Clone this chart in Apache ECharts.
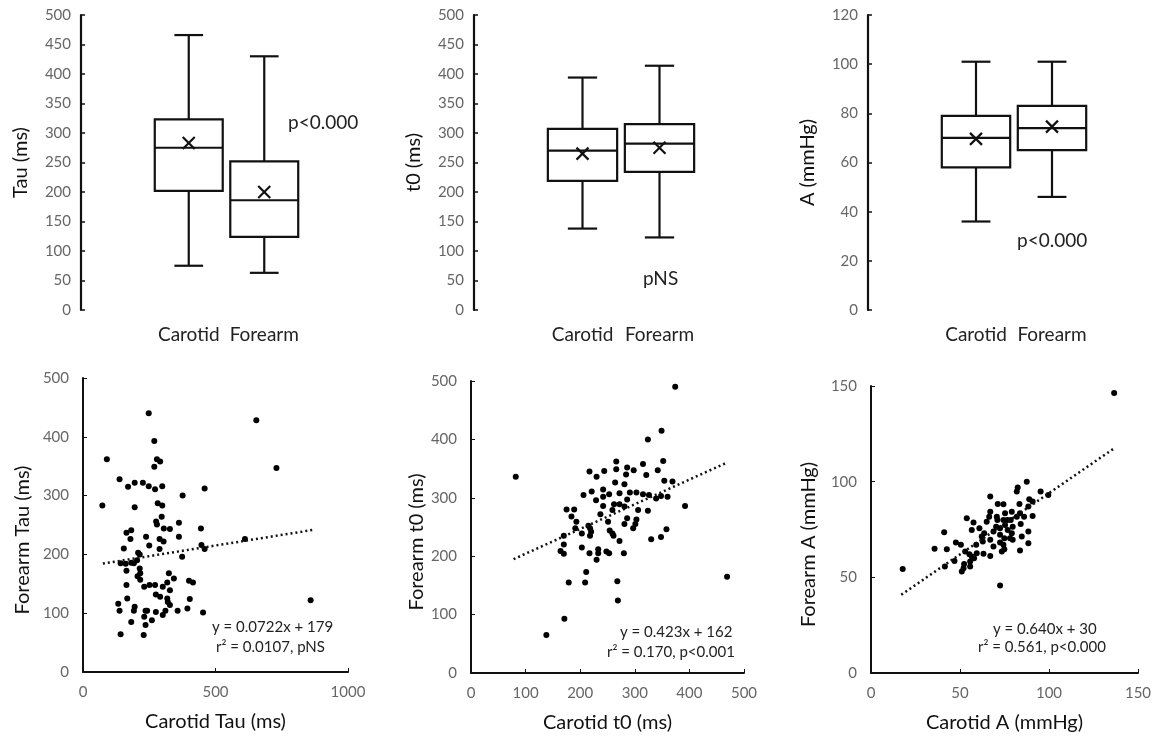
<!DOCTYPE html>
<html>
<head>
<meta charset="utf-8">
<title>Carotid vs Forearm</title>
<script src="https://cdn.jsdelivr.net/npm/echarts/dist/echarts.min.js"></script>
<style>
  html, body { margin: 0; padding: 0; background: #fff; }
  #chart { width: 1157px; height: 738px; }
</style>
</head>
<body>
<div id="chart"></div>
<script>
// box plot data: [min, q1, median, q3, max]
const boxCategories = ['Carotid', 'Forearm']
const tauBox = [[75, 202, 275, 323, 466], [63, 124, 186, 252, 430]]
const tauMean = [283, 200]
const t0Box = [[138, 219, 270, 307, 394], [123, 234, 282, 315, 414]]
const t0Mean = [265, 275]
const ampBox = [[36, 58, 70, 79, 101], [46, 65, 74, 83, 101]]
const ampMean = [69.6, 74.6]

// scatter data: [carotid, forearm]
const tauPoints = [
  [73, 283], [90, 362], [138, 328], [170, 315], [195, 322], [226, 322], [248, 316], [248, 440],
  [269, 393], [279, 362], [291, 358], [269, 349], [272, 311], [299, 316], [195, 280], [376, 300],
  [459, 312], [654, 428], [730, 347], [859, 122], [611, 226], [282, 287], [299, 283], [276, 256],
  [297, 264], [279, 251], [305, 244], [328, 243], [362, 254], [362, 230], [445, 244], [164, 237],
  [182, 241], [179, 226], [238, 230], [289, 226], [304, 222], [289, 209], [250, 215], [154, 210],
  [208, 203], [214, 200], [142, 185], [161, 184], [182, 186], [192, 185], [204, 190], [164, 172],
  [214, 176], [216, 168], [206, 163], [216, 157], [164, 148], [231, 145], [272, 148], [275, 132],
  [301, 145], [318, 152], [324, 168], [343, 159], [328, 139], [318, 125], [320, 119], [328, 114],
  [291, 128], [400, 155], [415, 152], [403, 124], [133, 116], [138, 104], [167, 125], [195, 111],
  [192, 104], [182, 85], [142, 64], [229, 63], [236, 104], [242, 104], [231, 94], [236, 80],
  [260, 88], [275, 102], [301, 97], [311, 104], [357, 104], [394, 108], [453, 101], [447, 216],
  [459, 209], [374, 196], [251, 148]
]
const t0Points = [
  [82, 336], [138, 65], [171, 93], [179, 155], [209, 155], [211, 173], [269, 124], [268, 157],
  [374, 490], [349, 415], [324, 400], [392, 286], [469, 165], [358, 246], [348, 233], [330, 229],
  [352, 363], [354, 329], [369, 328], [342, 347], [315, 358], [321, 339], [266, 362], [266, 349],
  [217, 345], [244, 346], [230, 336], [286, 352], [298, 347], [284, 340], [264, 326], [281, 323],
  [242, 314], [221, 311], [206, 305], [229, 296], [253, 306], [272, 308], [291, 309], [303, 309],
  [315, 306], [326, 305], [339, 299], [348, 303], [360, 302], [242, 286], [262, 289], [272, 289],
  [281, 285], [286, 297], [259, 279], [324, 278], [306, 279], [303, 263], [286, 265], [281, 255],
  [301, 255], [237, 272], [251, 259], [175, 280], [189, 280], [184, 268], [193, 259], [191, 248],
  [203, 239], [215, 252], [218, 248], [220, 242], [218, 235], [170, 235], [170, 220], [164, 209],
  [170, 204], [203, 215], [217, 205], [233, 212], [233, 205], [230, 194], [248, 208], [253, 205],
  [254, 244], [259, 239], [261, 235], [272, 226], [280, 205], [242, 302], [297, 248]
]
const ampPoints = [
  [17.8, 54.3], [136.6, 146.4], [72.5, 45.7], [41.1, 73.6], [35.7, 65.0], [42.6, 64.7], [41.5, 55.7],
  [46.9, 58.6], [47.7, 68.2], [53.8, 80.9], [56.6, 74.8], [57.6, 78.6], [50.5, 67.0], [52.9, 63.5],
  [55.3, 62.1], [51.0, 53.0], [52.0, 54.8], [55.7, 55.7], [55.7, 58.3], [56.6, 60.9], [59.4, 62.6],
  [63.2, 62.3], [67.0, 61.2], [62.8, 68.7], [63.6, 73.0], [65.0, 79.1], [67.0, 92.2], [70.7, 81.7],
  [71.2, 88.3], [74.4, 88.2], [67.0, 69.6], [68.8, 73.9], [70.3, 76.5], [72.5, 72.2], [72.5, 68.2],
  [74.4, 67.0], [73.5, 63.5], [74.9, 64.7], [75.3, 77.4], [76.6, 80.0], [76.8, 74.8], [78.1, 70.4],
  [79.1, 84.3], [78.5, 80.0], [81.9, 81.7], [81.9, 94.8], [82.4, 97.0], [83.7, 83.5], [84.1, 77.9],
  [83.4, 88.3], [87.5, 100.0], [88.9, 90.8], [88.4, 87.0], [90.8, 89.6], [90.8, 82.1], [88.4, 73.9],
  [88.4, 67.8], [83.7, 64.0], [95.3, 94.8], [99.6, 93.0], [86.0, 81.7], [84.7, 71.3], [75.3, 83.5],
  [66.4, 81.7], [67.0, 84.3], [60.9, 75.7], [62.2, 71.3], [59.1, 67.0], [72.5, 75.7], [74.9, 70.4],
  [79.6, 76.5], [71.0, 80.0], [74.4, 80.0], [79.6, 69.6], [57.9, 60.0], [52.3, 57.0], [68.8, 66.1],
  [79.1, 73.0]
]

// regression lines: [slope, intercept], drawn over [xStart, xEnd]
const tauFit = [0.0722, 179]
const tauFitRange = [75, 872]
const t0Fit = [0.423, 162]
const t0FitRange = [78, 467]
const ampFit = [0.640, 30]
const ampFitRange = [17, 137]

const FONT = 'Lato, "Open Sans", sans-serif'

const chart = echarts.init(document.getElementById('chart'))

// box + whiskers + mean cross, drawn with the axis scales
function renderBox (params, api) {
  const cat = api.value(0)
  const pMin = api.coord([cat, api.value(1)])
  const pQ1 = api.coord([cat, api.value(2)])
  const pMed = api.coord([cat, api.value(3)])
  const pQ3 = api.coord([cat, api.value(4)])
  const pMax = api.coord([cat, api.value(5)])
  const pMean = api.coord([cat, api.value(6)])
  const band = api.size([1, 0])[0]
  const half = band * 0.45
  const cap = band * 0.19
  const cx = pMed[0]
  const stroke = { stroke: '#111', lineWidth: 2.2, fill: null }
  const m = 6
  return {
    type: 'group',
    children: [
      { type: 'line', shape: { x1: cx, y1: pMax[1], x2: cx, y2: pQ3[1] }, style: stroke },
      { type: 'line', shape: { x1: cx, y1: pQ1[1], x2: cx, y2: pMin[1] }, style: stroke },
      { type: 'line', shape: { x1: cx - cap, y1: pMax[1], x2: cx + cap, y2: pMax[1] }, style: stroke },
      { type: 'line', shape: { x1: cx - cap, y1: pMin[1], x2: cx + cap, y2: pMin[1] }, style: stroke },
      {
        type: 'rect',
        shape: { x: cx - half, y: pQ3[1], width: half * 2, height: pQ1[1] - pQ3[1] },
        style: { stroke: '#111', lineWidth: 2.2, fill: '#fff' }
      },
      { type: 'line', shape: { x1: cx - half, y1: pMed[1], x2: cx + half, y2: pMed[1] }, style: stroke },
      { type: 'line', shape: { x1: cx - m, y1: pMean[1] - m, x2: cx + m, y2: pMean[1] + m }, style: stroke },
      { type: 'line', shape: { x1: cx - m, y1: pMean[1] + m, x2: cx + m, y2: pMean[1] - m }, style: stroke }
    ]
  }
}

function boxData (box, mean) {
  return box.map((b, i) => [i].concat(b, [mean[i]]))
}

function fitLine (fit, range) {
  return range.map(x => [x, fit[0] * x + fit[1]])
}

const tickLabel = { color: '#666', fontSize: 15, fontFamily: FONT, formatter: v => String(v) }
const axisName = { color: '#111', fontSize: 20, fontFamily: FONT }

function boxYAxis (idx, name, max, interval) {
  return {
    type: 'value', gridIndex: idx, min: 0, max: max, interval: interval,
    offset: 70,
    name: name, nameLocation: 'middle', nameGap: 50, nameTextStyle: axisName,
    axisLine: { show: true, lineStyle: { color: '#111', width: 2.2 } },
    axisTick: { show: true, inside: true, length: 4, lineStyle: { color: '#111', width: 1.5 } },
    axisLabel: Object.assign({ margin: 10 }, tickLabel),
    splitLine: { show: false }
  }
}

function boxXAxis (idx) {
  return {
    type: 'category', gridIndex: idx, data: boxCategories,
    axisLine: { show: false }, axisTick: { show: false },
    axisLabel: { color: '#222', fontSize: 19, fontFamily: FONT, margin: 15, interval: 0 }
  }
}

function scatterXAxis (idx, name, max, interval) {
  return {
    type: 'value', gridIndex: idx, min: 0, max: max, interval: interval,
    name: name, nameLocation: 'middle', nameGap: 40, nameTextStyle: axisName,
    axisLine: { show: true, lineStyle: { color: '#111', width: 2 } },
    axisTick: { show: true, inside: true, length: 4, lineStyle: { color: '#111' } },
    axisLabel: Object.assign({ margin: 13 }, tickLabel),
    splitLine: { show: false }
  }
}

function scatterYAxis (idx, name, max, interval, gap) {
  return {
    type: 'value', gridIndex: idx, min: 0, max: max, interval: interval,
    name: name, nameLocation: 'middle', nameGap: gap,
    nameTextStyle: Object.assign({ padding: [0, 30, 0, 0] }, axisName),
    axisLine: { show: true, lineStyle: { color: '#111', width: 2 } },
    axisTick: { show: true, inside: true, length: 4, lineStyle: { color: '#111' } },
    axisLabel: Object.assign({ margin: 14 }, tickLabel),
    splitLine: { show: false }
  }
}

function scatterSeries (idx, points) {
  return {
    type: 'scatter', xAxisIndex: idx, yAxisIndex: idx, data: points,
    symbolSize: 6, itemStyle: { color: '#000', opacity: 1 }, silent: true
  }
}

function fitSeries (idx, fit, range) {
  return {
    type: 'line', xAxisIndex: idx, yAxisIndex: idx, data: fitLine(fit, range),
    showSymbol: false, silent: true,
    lineStyle: { color: '#111', width: 2.5, type: [2, 3] }
  }
}

function note (x, y, text, size) {
  return {
    type: 'text', left: x, top: y,
    style: { text: text, fill: '#222', fontSize: size, fontFamily: FONT }
  }
}

const option = {
  backgroundColor: '#fff',
  animation: false,
  grid: [
    { left: 151, top: 15, width: 151, height: 295 },
    { left: 544, top: 15, width: 154, height: 295 },
    { left: 938, top: 15, width: 152, height: 295 },
    { left: 83, top: 378, width: 265, height: 294 },
    { left: 471, top: 381, width: 273, height: 292 },
    { left: 871, top: 386, width: 267, height: 287 }
  ],
  xAxis: [
    boxXAxis(0), boxXAxis(1), boxXAxis(2),
    scatterXAxis(3, 'Carotid Tau (ms)', 1000, 500),
    scatterXAxis(4, 'Carotid t0 (ms)', 500, 100),
    scatterXAxis(5, 'Carotid A (mmHg)', 150, 50)
  ],
  yAxis: [
    boxYAxis(0, 'Tau (ms)', 500, 50),
    boxYAxis(1, 't0 (ms)', 500, 50),
    boxYAxis(2, 'A (mmHg)', 120, 20),
    scatterYAxis(3, 'Forearm Tau (ms)', 500, 100, 50),
    scatterYAxis(4, 'Forearm t0 (ms)', 500, 100, 43),
    scatterYAxis(5, 'Forearm A (mmHg)', 150, 50, 52)
  ],
  series: [
    { type: 'custom', xAxisIndex: 0, yAxisIndex: 0, renderItem: renderBox, data: boxData(tauBox, tauMean), silent: true },
    { type: 'custom', xAxisIndex: 1, yAxisIndex: 1, renderItem: renderBox, data: boxData(t0Box, t0Mean), silent: true },
    { type: 'custom', xAxisIndex: 2, yAxisIndex: 2, renderItem: renderBox, data: boxData(ampBox, ampMean), silent: true },
    scatterSeries(3, tauPoints), fitSeries(3, tauFit, tauFitRange),
    scatterSeries(4, t0Points), fitSeries(4, t0Fit, t0FitRange),
    scatterSeries(5, ampPoints), fitSeries(5, ampFit, ampFitRange)
  ],
  graphic: [
    note(288, 113, 'p<0.000', 19),
    note(643, 269, 'pNS', 19),
    note(1017, 231, 'p<0.000', 19),
    note(212, 620, 'y = 0.0722x + 179', 15),
    note(216, 640, 'r² = 0.0107, pNS', 15),
    note(620, 625, 'y = 0.423x + 162', 15),
    note(607, 645, 'r² = 0.170, p<0.001', 15),
    note(993, 622, 'y = 0.640x + 30', 15),
    note(978, 640, 'r² = 0.561, p<0.000', 15)
  ]
}

chart.setOption(option)
</script>
</body>
</html>
